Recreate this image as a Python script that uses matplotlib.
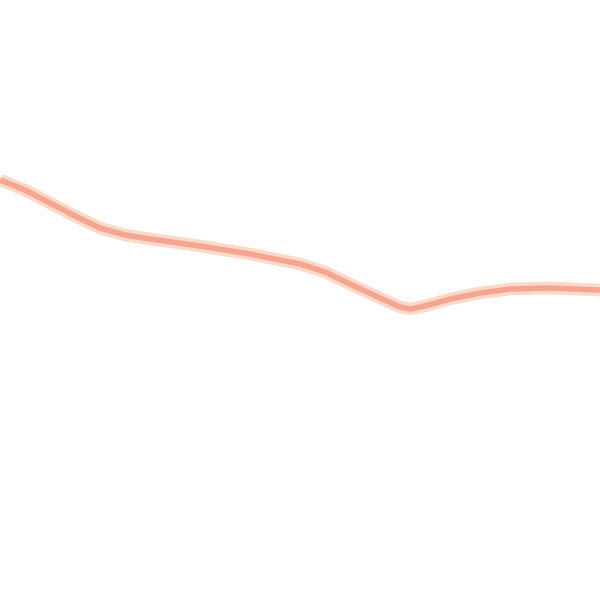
import matplotlib
matplotlib.use('Agg')
import matplotlib.pyplot as plt
import numpy as np

x = [0, 25, 50, 75, 100, 125, 150, 200, 250, 300, 325, 350, 380, 400, 410, 425, 450, 480, 510, 550, 600]
y = [180, 190, 203, 216, 228, 235, 239, 246, 254, 264, 272, 284, 298, 307, 309, 306, 299, 293, 289, 288, 290]

fig = plt.figure(figsize=(6, 6), dpi=100)
ax = fig.add_axes([0, 0, 1, 1])

# soft halo then the core line
ax.plot(x, y, color='#fdd9c7', linewidth=9, solid_capstyle='butt', solid_joinstyle='round')
ax.plot(x, y, color='#f6a593', linewidth=4, solid_capstyle='butt', solid_joinstyle='round')

ax.set_xlim(0, 600)
ax.set_ylim(600, 0)
ax.axis('off')

fig.savefig('out.png', dpi=100, facecolor='white')
